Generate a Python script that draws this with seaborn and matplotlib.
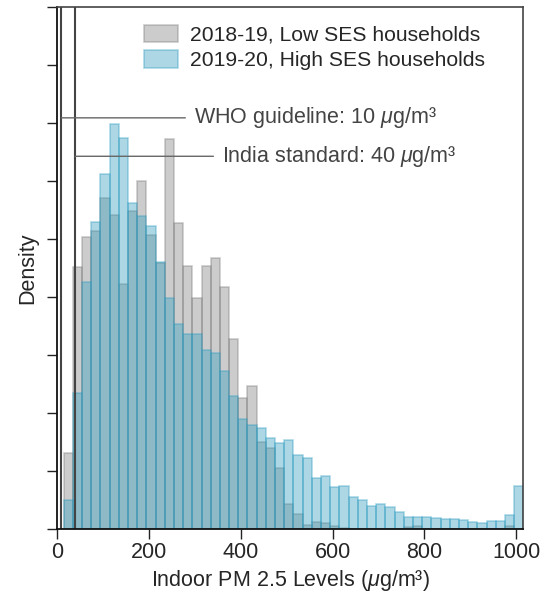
import numpy as np
import pandas as pd
import matplotlib
matplotlib.use("Agg")
import matplotlib.pyplot as plt
from matplotlib.colors import to_rgba
import seaborn as sns

# histogram bins (ug/m3): 50 bins of width 20 starting at 15
bin_start, bin_stop, bin_width = 15, 1015, 20
bin_centers = np.arange(bin_start, bin_stop, bin_width) + bin_width / 2

# density per bin, in units of 1e-4
low_ses_1819 = [6.6, 22.6, 25.2, 25.7, 28.5, 27.1, 21.1, 27.4, 30.0, 25.3,
                22.9, 33.6, 26.4, 22.7, 19.9, 22.7, 23.4, 20.9, 16.4, 11.3,
                12.3, 7.5, 7.0, 5.3, 2.2, 1.3, 0.4, 0.6, 0.5, 0.3,
                0.1, 0, 0, 0, 0, 0, 0, 0.2, 0.3, 0,
                0, 0, 0, 0, 0, 0, 0, 0, 0.3, 0]
high_ses_1920 = [2.5, 11.7, 21.3, 26.5, 30.6, 34.9, 33.7, 28.1, 27.0, 26.1,
                 23.0, 19.9, 17.7, 16.8, 16.8, 15.4, 15.2, 13.6, 11.5, 9.5,
                 9.0, 8.7, 7.9, 7.4, 7.7, 6.4, 6.1, 4.4, 4.6, 3.6,
                 3.7, 2.8, 2.5, 2.0, 2.2, 1.9, 1.5, 1.1, 1.1, 1.1,
                 1.0, 0.9, 0.9, 0.8, 0.6, 0.5, 0.7, 0.7, 1.2, 3.7]

labels = ["2018-19, Low SES households", "2019-20, High SES households"]
colors = ["#808080", "#329dc0"]

who_guideline = 10
india_standard = 40

FS = 15.5

sns.set_style("ticks")
plt.rcParams["font.family"] = ["Liberation Sans", "DejaVu Sans"]
plt.rcParams["mathtext.fontset"] = "custom"
plt.rcParams["mathtext.rm"] = "Liberation Sans"
plt.rcParams["mathtext.it"] = "Liberation Sans:italic"

fig = plt.figure(figsize=(5.41, 6.04), dpi=100)
ax = fig.add_axes([0.1048, 0.1237, 0.8625, 0.8652])

for values, label, color in zip([low_ses_1819, high_ses_1920], labels, colors):
    df = pd.DataFrame({"pm": bin_centers, "density": np.array(values) * 1e-4})
    sns.histplot(data=df, x="pm", weights="density", binwidth=bin_width,
                 binrange=(bin_start, bin_stop), color=color,
                 edgecolor=to_rgba(color, 0.4), alpha=0.4, linewidth=1.2,
                 label=label, ax=ax)

ax.axvline(who_guideline, color="#444444", lw=1.5)
ax.axvline(india_standard, color="#444444", lw=1.5)

ax.annotate("WHO guideline: 10 $\\mu$g/m³", xy=(who_guideline, 0.003543),
            xytext=(299, 0.003543), va="center", ha="left", fontsize=FS,
            color="#444444",
            arrowprops=dict(arrowstyle="-", color="#666666", lw=1, shrinkA=4, shrinkB=0))
ax.annotate("India standard: 40 $\\mu$g/m³", xy=(india_standard, 0.003212),
            xytext=(360, 0.003212), va="center", ha="left", fontsize=FS,
            color="#444444",
            arrowprops=dict(arrowstyle="-", color="#666666", lw=1, shrinkA=4, shrinkB=0))

ax.set_xlim(0, 1015)
ax.set_ylim(0, 0.0045)
ax.set_xticks([0, 200, 400, 600, 800, 1000])
ax.set_yticks(np.arange(0, 0.00451, 0.0005))
ax.set_yticklabels([])
ax.tick_params(axis="both", length=7, width=1, labelsize=FS, color="#222222", pad=2)
for side in ["left", "bottom"]:
    ax.spines[side].set_color("#111111")
    ax.spines[side].set_linewidth(1.3)
for side in ["top", "right"]:
    ax.spines[side].set_visible(True)
    ax.spines[side].set_color("#444444")
    ax.spines[side].set_linewidth(1.2)

ax.set_xlabel("Indoor PM 2.5 Levels ($\\mu$g/m³)", fontsize=FS, labelpad=4)
ax.set_ylabel("Density", fontsize=FS, labelpad=4)

ax.legend(loc="upper left", frameon=False, fontsize=15.2, handlelength=1.6,
          handleheight=0.9, handletextpad=0.55, labelspacing=0.27,
          bbox_to_anchor=(0.147, 1.002))

fig.savefig("out.png", dpi=100)
